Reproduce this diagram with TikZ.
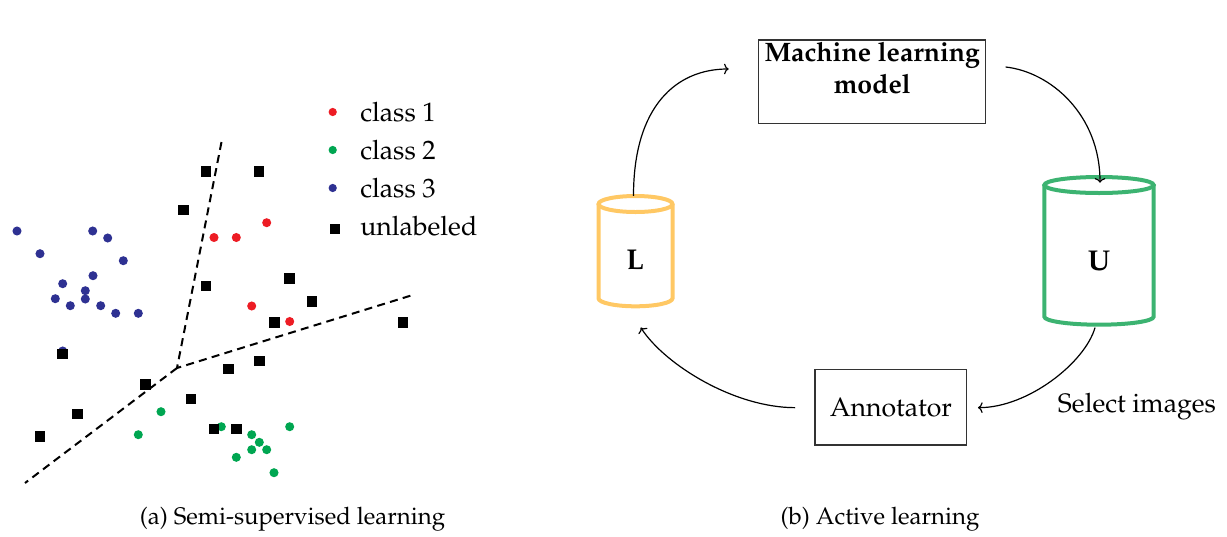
\documentclass[tikz,border=0pt]{standalone}
\usepackage[T1]{fontenc}
\usepackage{mathpazo}
\usetikzlibrary{arrows.meta,calc}
\definecolor{clsred}{RGB}{237,28,36}
\definecolor{clsgreen}{RGB}{0,166,81}
\definecolor{clsblue}{RGB}{46,49,146}
\definecolor{poolL}{RGB}{255,200,100}
\definecolor{poolU}{RGB}{60,179,113}
\begin{document}
\begin{tikzpicture}[x=0.75pt,y=-0.75pt,
  ptdot/.style={circle,inner sep=0pt,minimum size=6.8pt},
  ptsq/.style={rectangle,fill=black,inner sep=0pt,minimum size=8pt},
  sepline/.style={line width=1.5pt,dash pattern=on 6pt off 4pt},
  flowarrow/.style={line width=0.9pt,-{To[length=3.5pt,width=8pt]}},
  boxnode/.style={draw=black!80,line width=1pt,rectangle,inner sep=0pt},
  txt/.style={font=\fontsize{20}{23.7}\selectfont,inner sep=0pt},
  captxt/.style={font=\fontsize{18}{22}\selectfont,inner sep=0pt},
  cyl/.style={line width=3pt},
  frame/.style={rectangle,inner sep=0pt}
]
\useasboundingbox (0,0) rectangle (1227,536);

% ---------------- (a) semi-supervised learning ----------------
% decision boundaries
\coordinate (sepT) at (221.5,142);
\coordinate (sepJ) at (177,368);
\coordinate (sepR) at (412.7,295);
\coordinate (sepB) at (25,483);
\draw[sepline] (sepT) -- (sepJ) -- (sepR);
\draw[sepline] (sepJ) -- (sepB);

% class 3
\foreach \px/\py [count=\i] in {17/231, 92.7/231, 107.7/238, 40/253.7, 123.3/260.7,
    93/275.7, 62.7/283.7, 85.3/290.7, 55.3/298.7, 85.3/299, 70.3/305.7,
    100.7/305.7, 115.7/313.3, 138.3/313.3, 62.7/351}
  \node[ptdot,fill=clsblue] (b\i) at (\px,\py) {};
% class 1
\foreach \px/\py [count=\i] in {266.7/222.7, 214/237.5, 236.3/237.5, 251.7/306, 289.7/321.5}
  \node[ptdot,fill=clsred] (r\i) at (\px,\py) {};
% class 2
\foreach \px/\py [count=\i] in {161/411.7, 138.3/434.7, 221.3/426.7, 251.7/434.7,
    259.3/442.3, 251.7/449.7, 266.7/449.7, 236.3/457.3, 289.7/426.7, 274/472.7}
  \node[ptdot,fill=clsgreen] (g\i) at (\px,\py) {};
% unlabeled samples
\foreach \px/\py [count=\i] in {206/171.7, 259/171.7, 183.5/210, 206/286, 289.7/278.3,
    312/301.5, 274.3/322.7, 403/322.7, 62.7/354, 145.7/384.3, 77.7/414, 40/436.7,
    191/399, 228.7/369, 259.3/361, 214/429, 236.7/429}
  \node[ptsq] (u\i) at (\px,\py) {};

% legend
\node[ptdot,fill=clsred,minimum size=6.2pt] (lg1) at (332.7,112) {};
\node[ptdot,fill=clsgreen,minimum size=6.2pt] (lg2) at (332.7,150) {};
\node[ptdot,fill=clsblue,minimum size=6.2pt] (lg3) at (332.7,188) {};
\node[ptsq,minimum size=7.6pt] (lg4) at (335.3,229) {};
\node[txt,anchor=base west] (lt1) at (360,121) {class 1};
\node[txt,anchor=base west] (lt2) at (360,159.3) {class 2};
\node[txt,anchor=base west] (lt3) at (360,197.3) {class 3};
\node[txt,anchor=base west] (lt4) at (360,235) {unlabeled};

\node[captxt,anchor=base] (capa) at (292.5,524.5) {(a) Semi-supervised learning};

% ---------------- (b) active learning ----------------
\node[boxnode,minimum width=170.5pt,minimum height=62.5pt] (ml) at (872,81.65) {};
\node[txt,align=center] (mltext) at (872.3,67.75) {\bfseries Machine learning\\\bfseries model};

\node[boxnode,txt,minimum width=113.8pt,minimum height=56.8pt] (ann) at (890.85,407.15) {Annotator};

% labeled pool
\node[frame,minimum width=55.5pt,minimum height=82.7pt] (L) at (635.5,251.15) {};
\draw[cyl,poolL] (635.5,204) ellipse [x radius=27.75pt, y radius=6pt];
\draw[cyl,poolL] (598.5,204) -- (598.5,298.3)
  arc[start angle=180, end angle=360, x radius=27.75pt, y radius=6pt] -- (672.5,204);
\node[txt,font=\fontsize{21.5}{24}\selectfont\bfseries] (Ltext) at (635,260) {L};

% unlabeled pool
\node[frame,minimum width=82pt,minimum height=110.8pt] (U) at (1099,250.85) {};
\draw[cyl,poolU] (1099,185) ellipse [x radius=41pt, y radius=6pt];
\draw[cyl,poolU] (1044.3,185) -- (1044.3,316.7)
  arc[start angle=180, end angle=360, x radius=41pt, y radius=6pt] -- (1153.7,185);
\node[txt,font=\fontsize{21.5}{24}\selectfont\bfseries] (Utext) at (1099,260.7) {U};

% the loop
\draw[flowarrow] ($(L.north)+(-2,0)$) .. controls +(0,-90) and +(-52,0) .. ($(ml.west)+(-29,-12.65)$);
\draw[flowarrow] ($(ml.east)+(19.3,-14.65)$) .. controls +(45,5) and +(0,-68) .. ($(U.north)+(1,6)$);
\draw[flowarrow] ($(U.south)+(-4,2.6)$) .. controls +(-10,35) and +(50,0) .. ($(ann.east)+(10.6,0.5)$);
\draw[flowarrow] ($(ann.west)+(-19.3,0.5)$) .. controls +(-60,0) and +(25,38) .. ($(L.south)+(5.2,21)$);

\node[txt,anchor=base west] (sel) at (1057.7,412.3) {Select images};

\node[captxt,anchor=base] (capb) at (880,524.5) {(b) Active learning};
\end{tikzpicture}
\end{document}
